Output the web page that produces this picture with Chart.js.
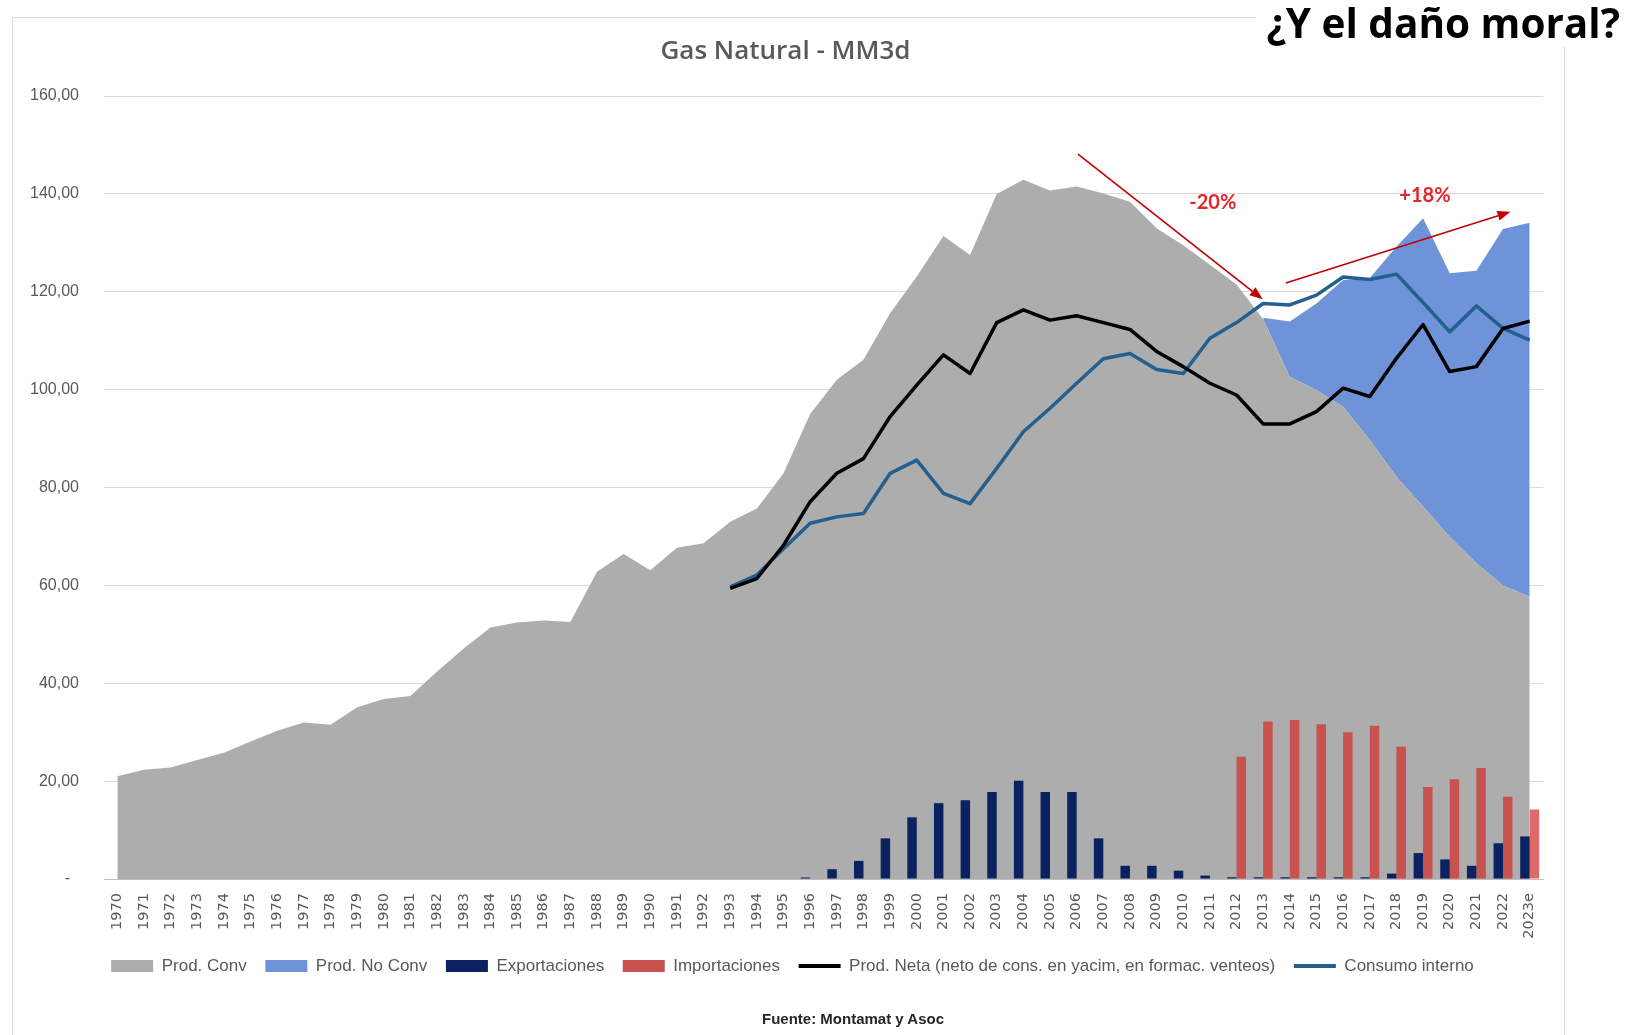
<!DOCTYPE html>
<html>
<head>
<meta charset="utf-8">
<script src="https://cdn.jsdelivr.net/npm/chart.js@4.4.0/dist/chart.umd.min.js"></script>
<style>
html, body { margin: 0; padding: 0; background: #fff; width: 1636px; height: 1035px; overflow: hidden; }
#wrap { position: relative; width: 1636px; height: 1035px; }
#chart { position: absolute; left: 0; top: 0; }
#headline { position: absolute; right: 16px; top: -1px; background: #fff; padding-left: 10px; padding-right: 16px; margin-right: -16px;
  font-family: 'Open Sans', sans-serif; font-weight: 700; font-size: 40.5px; line-height: 48px; color: #000; white-space: nowrap; }
#source { position: absolute; left: 653px; width: 400px; top: 1010px; text-align: center;
  font-family: 'Liberation Sans', Arial, sans-serif; font-weight: 700; font-size: 15px; line-height: 18px; color: #262626; }
</style>
</head>
<body>
<div id="wrap">
  <canvas id="chart" width="1636" height="1035"></canvas>
  <div id="headline">¿Y el daño moral?</div>
  <div id="source">Fuente: Montamat y Asoc</div>
</div>
<script>
// ---------- DATA ----------
const years = ['1970','1971','1972','1973','1974','1975','1976','1977','1978','1979',
  '1980','1981','1982','1983','1984','1985','1986','1987','1988','1989',
  '1990','1991','1992','1993','1994','1995','1996','1997','1998','1999',
  '2000','2001','2002','2003','2004','2005','2006','2007','2008','2009',
  '2010','2011','2012','2013','2014','2015','2016','2017','2018','2019',
  '2020','2021','2022','2023e'];

const prodConv = [21.0, 22.3, 22.8, 24.3, 25.8, 28.1, 30.3, 32.0, 31.5, 35.1,
  36.8, 37.4, 42.4, 47.1, 51.4, 52.4, 52.8, 52.5, 62.8, 66.4,
  63.1, 67.7, 68.6, 73.0, 75.7, 82.9, 95.0, 102.0, 106.1, 115.6,
  123.1, 131.4, 127.5, 140.0, 142.9, 140.7, 141.5, 140.1, 138.4, 133.0,
  129.5, 125.5, 121.5, 114.4, 102.6, 99.9, 96.5, 89.7, 82.2, 76.1,
  69.9, 64.5, 60.0, 57.7];

const prodNoConv = [null, null, null, null, null, null, null, null, null, null,
  null, null, null, null, null, null, null, null, null, null,
  null, null, null, null, null, null, null, null, null, null,
  null, null, null, null, null, null, null, null, null, null,
  null, null, null, 0.3, 11.3, 17.7, 25.9, 33.1, 47.0, 58.9,
  53.9, 59.8, 72.8, 76.4];

const exportaciones = [null, null, null, null, null, null, null, null, null, null,
  null, null, null, null, null, null, null, null, null, null,
  null, null, null, null, null, null, 0.3, 2.0, 3.7, 8.3,
  12.6, 15.5, 16.1, 17.8, 20.1, 17.8, 17.8, 8.3, 2.7, 2.7,
  1.7, 0.7, 0.35, 0.35, 0.35, 0.35, 0.35, 0.35, 1.1, 5.3,
  4.0, 2.7, 7.3, 8.7];

const importaciones = [null, null, null, null, null, null, null, null, null, null,
  null, null, null, null, null, null, null, null, null, null,
  null, null, null, null, null, null, null, null, null, null,
  null, null, null, null, null, null, null, null, null, null,
  null, null, 25.0, 32.2, 32.5, 31.6, 30.0, 31.3, 27.0, 18.8,
  20.4, 22.7, 16.8, 14.2];

const prodNeta = [null, null, null, null, null, null, null, null, null, null,
  null, null, null, null, null, null, null, null, null, null,
  null, null, null, 59.4, 61.4, 68.2, 77.1, 82.9, 85.9, 94.5,
  100.9, 107.1, 103.3, 113.7, 116.3, 114.2, 115.1, 113.7, 112.3, 107.8,
  104.7, 101.3, 98.9, 93.0, 93.0, 95.5, 100.3, 98.6, 106.4, 113.3,
  103.7, 104.7, 112.5, 114.0];

const consumoInterno = [null, null, null, null, null, null, null, null, null, null,
  null, null, null, null, null, null, null, null, null, null,
  null, null, null, 59.7, 62.1, 67.5, 72.7, 74.0, 74.7, 82.9,
  85.6, 78.8, 76.7, 83.9, 91.4, 96.2, 101.3, 106.3, 107.4, 104.1,
  103.3, 110.5, 113.7, 117.6, 117.3, 119.3, 123.0, 122.5, 123.6, 117.8,
  111.8, 117.1, 112.5, 110.1];

const seriesNames = ['Prod. Conv', 'Prod. No Conv', 'Exportaciones', 'Importaciones',
  'Prod. Neta (neto de cons. en yacim, en formac. venteos)', 'Consumo interno'];

const yTicks = [0, 20, 40, 60, 80, 100, 120, 140, 160];

// ---------- ANNOTATIONS (in data coordinates: category index, value) ----------
const arrows = [
  { from: [36.05, 148.1], to: [42.98, 118.45] },
  { from: [43.85, 121.8], to: [52.28, 136.35] }
];
const pctLabels = [
  { text: '-20%', at: [41.11, 138.3] },
  { text: '+18%', at: [49.07, 139.7] }
];

// ---------- STYLE ----------
const COL = {
  conv: '#adadad', noConv: '#6f93d8', exp: '#0b2160', imp: '#c8524f', impLast: '#e06a68',
  neta: '#000000', cons: '#235f8f', text: '#595959', arrow: '#c00000', pct: '#e3262b'
};

const bgPlugin = {
  id: 'bg',
  beforeDraw(chart) {
    const ctx = chart.ctx;
    ctx.save();
    ctx.fillStyle = '#fff';
    ctx.fillRect(0, 0, chart.width, chart.height);
    ctx.strokeStyle = '#d9d9d9';
    ctx.lineWidth = 1;
    ctx.strokeRect(12.5, 17.5, 1552, 1200);
    ctx.restore();
  },
  afterLayout(chart) {
    if (chart.legend) { chart.legend.left += 7; chart.legend.right += 7; }
  }
};

const annotPlugin = {
  id: 'annot',
  afterDraw(chart) {
    const ctx = chart.ctx, xs = chart.scales.x, ys = chart.scales.y;
    ctx.save();
    arrows.forEach(a => {
      const x0 = xs.getPixelForValue(a.from[0]), y0 = ys.getPixelForValue(a.from[1]);
      const x1 = xs.getPixelForValue(a.to[0]), y1 = ys.getPixelForValue(a.to[1]);
      const ang = Math.atan2(y1 - y0, x1 - x0);
      const hl = 13, hw = 5;
      const bx = x1 - hl * Math.cos(ang), by = y1 - hl * Math.sin(ang);
      ctx.strokeStyle = COL.arrow; ctx.lineWidth = 1.6;
      ctx.beginPath(); ctx.moveTo(x0, y0); ctx.lineTo(bx, by); ctx.stroke();
      ctx.fillStyle = COL.arrow;
      ctx.beginPath();
      ctx.moveTo(x1, y1);
      ctx.lineTo(bx + hw * Math.sin(ang), by - hw * Math.cos(ang));
      ctx.lineTo(bx - hw * Math.sin(ang), by + hw * Math.cos(ang));
      ctx.closePath(); ctx.fill();
    });
    ctx.fillStyle = COL.pct;
    ctx.font = "700 20px 'Lato', 'Liberation Sans', sans-serif";
    ctx.textAlign = 'center'; ctx.textBaseline = 'middle';
    pctLabels.forEach(l => {
      ctx.fillText(l.text, xs.getPixelForValue(l.at[0]), ys.getPixelForValue(l.at[1]));
    });
    ctx.restore();
  }
};

const lastIdx = years.length - 1;

new Chart(document.getElementById('chart'), {
  type: 'bar',
  data: {
    labels: years,
    datasets: [
      { type: 'line', label: seriesNames[0], data: prodConv, backgroundColor: COL.conv, borderColor: COL.conv,
        borderWidth: 0, pointRadius: 0, fill: 'origin', stack: 'prod', order: 4, tension: 0 },
      { type: 'line', label: seriesNames[1], data: prodNoConv, backgroundColor: COL.noConv, borderColor: COL.noConv,
        borderWidth: 0, pointRadius: 0, fill: '-1', stack: 'prod', order: 5, tension: 0 },
      { type: 'bar', label: seriesNames[2], data: exportaciones, backgroundColor: COL.exp,
        stack: 'exp', order: 2, categoryPercentage: 0.71, barPercentage: 1.0 },
      { type: 'bar', label: seriesNames[3], data: importaciones,
        backgroundColor: (c) => c.dataIndex === lastIdx ? COL.impLast : COL.imp,
        stack: 'imp', order: 3, categoryPercentage: 0.71, barPercentage: 1.0 },
      { type: 'line', label: seriesNames[4], data: prodNeta, borderColor: COL.neta, backgroundColor: COL.neta,
        borderWidth: 3.5, pointRadius: 0, fill: false, stack: 'neta', order: 0, tension: 0, borderJoinStyle: 'round' },
      { type: 'line', label: seriesNames[5], data: consumoInterno, borderColor: COL.cons, backgroundColor: COL.cons,
        borderWidth: 3.5, pointRadius: 0, fill: false, stack: 'cons', order: 1, tension: 0, borderJoinStyle: 'round' }
    ]
  },
  options: {
    responsive: false,
    maintainAspectRatio: false,
    animation: false,
    layout: { padding: { left: 28, right: 93, top: 0, bottom: 50.5 } },
    plugins: {
      tooltip: { enabled: false },
      title: {
        display: true, text: 'Gas Natural - MM3d', color: COL.text,
        font: { family: "'Open Sans', sans-serif", size: 26, weight: '600' },
        padding: { top: 36.4, bottom: 28.4 }
      },
      legend: {
        position: 'bottom',
        labels: {
          color: COL.text,
          font: { family: "'Liberation Sans', Arial, sans-serif", size: 17 },
          usePointStyle: true, pointStyleWidth: 42, boxHeight: 12, padding: 18.6,
          generateLabels(chart) {
            const colors = [COL.conv, COL.noConv, COL.exp, COL.imp, COL.neta, COL.cons];
            return chart.data.datasets.map((ds, i) => {
              const isLine = i >= 4;
              return {
                text: ds.label, datasetIndex: i, hidden: false,
                fillStyle: colors[i], strokeStyle: colors[i],
                lineWidth: isLine ? 4 : 0,
                pointStyle: isLine ? 'line' : 'rect',
                fontColor: COL.text
              };
            });
          },
          sort: (a, b) => a.datasetIndex - b.datasetIndex
        }
      }
    },
    scales: {
      x: {
        type: 'category', offset: true, stacked: false,
        grid: { display: false, drawTicks: false },
        border: { display: true, color: '#bfbfbf', width: 1 },
        ticks: { autoSkip: false, minRotation: 90, maxRotation: 90, padding: 14, color: COL.text,
          font: { family: "'DejaVu Sans', sans-serif", size: 14.5 } },
        afterFit(s) { s.height = 59.9; }
      },
      y: {
        stacked: true, min: 0, max: 160, z: 1,
        afterBuildTicks(s) { s.ticks = yTicks.map(v => ({ value: v })); },
        grid: { color: 'rgba(0,0,0,0.15)', drawTicks: false, lineWidth: 1 },
        border: { display: false },
        ticks: { padding: 25, color: COL.text,
          font: { family: "'Liberation Sans', Arial, sans-serif", size: 16 },
          callback: (v) => v === 0 ? '-  ' : Number(v).toFixed(2).replace('.', ',') },
        afterFit(s) { s.width = 76; }
      }
    }
  },
  plugins: [bgPlugin, annotPlugin]
});
</script>
</body>
</html>
